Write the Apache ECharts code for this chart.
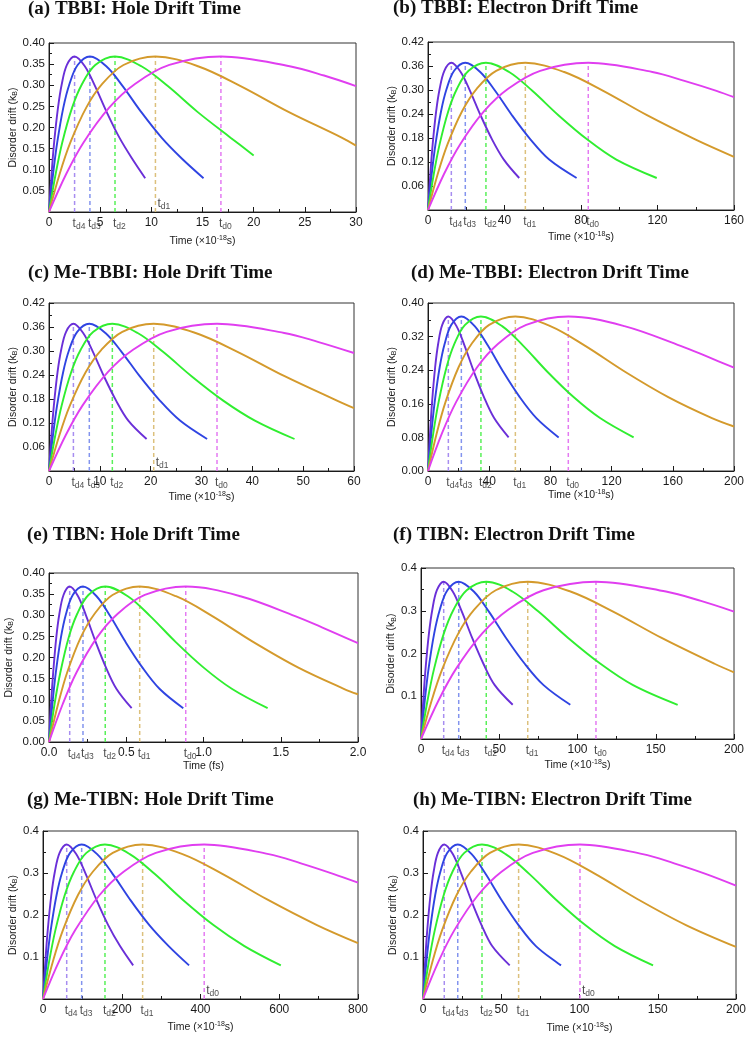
<!DOCTYPE html>
<html><head><meta charset="utf-8">
<script src="https://cdn.jsdelivr.net/npm/echarts@6/dist/echarts.min.js"></script>
<style>html,body{margin:0;padding:0;background:#fff}#c{width:752px;height:1041px}</style>
</head><body><div id="c"></div>
<script>
// ---------- DATA ----------
// curve order in each panel: td4 (violet), td3 (blue), td2 (green), td1 (gold), td0 (magenta)
const tdNames = ['d4','d3','d2','d1','d0'];
const peakValue = 0.368;

// (a) TBBI hole
const tdA = [2.5, 4.0, 6.45, 10.4, 16.8];
const a_td4 = [[0,0],[0.25,0.09],[0.5,0.164],[0.88,0.247],[1.25,0.303],[1.75,0.348],[2.5,0.368],[3.5,0.345],[4.5,0.298],[5.63,0.237],[6.88,0.176],[8.13,0.126],[9.4,0.08]];
const a_td3 = [[0,0],[0.4,0.09],[0.8,0.164],[1.4,0.247],[2,0.303],[2.8,0.348],[4,0.368],[5.6,0.345],[7.2,0.298],[9,0.237],[11,0.176],[13,0.126],[15.1,0.08]];
const a_td2 = [[0,0],[0.65,0.09],[1.29,0.164],[2.26,0.247],[3.23,0.303],[4.52,0.348],[6.45,0.368],[9.03,0.345],[11.61,0.298],[14.51,0.237],[17.74,0.176],[20,0.134]];
const a_td1 = [[0,0],[1.04,0.09],[2.08,0.164],[3.64,0.247],[5.2,0.303],[7.28,0.348],[10.4,0.368],[14.56,0.345],[18.72,0.298],[23.4,0.237],[28.6,0.176],[30,0.157]];
const a_td0 = [[0,0],[1.68,0.09],[3.36,0.164],[5.88,0.247],[8.4,0.303],[11.76,0.348],[16.8,0.368],[23.52,0.345],[26.88,0.323],[30,0.298]];

// (b) TBBI electron
const tdB = [12.2, 19.5, 30.3, 50.9, 83.8];
const b_td4 = [[0,0],[1.22,0.09],[2.44,0.164],[4.27,0.247],[6.1,0.303],[8.54,0.348],[12.2,0.368],[17.08,0.345],[21.96,0.298],[27.45,0.237],[33.55,0.176],[39.65,0.126],[47.7,0.08]];
const b_td3 = [[0,0],[1.95,0.09],[3.9,0.164],[6.83,0.247],[9.75,0.303],[13.65,0.348],[19.5,0.368],[27.3,0.345],[35.1,0.298],[43.88,0.237],[53.63,0.176],[63.38,0.126],[77.7,0.08]];
const b_td2 = [[0,0],[3.03,0.09],[6.06,0.164],[10.6,0.247],[15.15,0.303],[21.21,0.348],[30.3,0.368],[42.42,0.345],[54.54,0.298],[68.18,0.237],[83.33,0.176],[98.48,0.126],[119.6,0.08]];
const b_td1 = [[0,0],[5.09,0.09],[10.18,0.164],[17.82,0.247],[25.45,0.303],[35.63,0.348],[50.9,0.368],[71.26,0.345],[91.62,0.298],[114.5,0.237],[139.98,0.176],[160,0.133]];
const b_td0 = [[0,0],[8.38,0.09],[16.76,0.164],[29.33,0.247],[41.9,0.303],[58.66,0.348],[83.8,0.368],[117.32,0.345],[134.08,0.323],[150.84,0.298],[160,0.282]];

// (c) Me-TBBI hole
const tdC = [4.8, 7.93, 12.46, 20.6, 33.05];
const c_td4 = [[0,0],[0.48,0.09],[0.96,0.164],[1.68,0.247],[2.4,0.303],[3.36,0.348],[4.8,0.368],[6.72,0.345],[8.64,0.298],[10.8,0.237],[13.2,0.176],[15.6,0.126],[19.2,0.08]];
const c_td3 = [[0,0],[0.79,0.09],[1.59,0.164],[2.78,0.247],[3.97,0.303],[5.55,0.348],[7.93,0.368],[11.1,0.345],[14.27,0.298],[17.84,0.237],[21.81,0.176],[25.77,0.126],[31.1,0.08]];
const c_td2 = [[0,0],[1.25,0.09],[2.49,0.164],[4.36,0.247],[6.23,0.303],[8.72,0.348],[12.46,0.368],[17.44,0.345],[22.43,0.298],[28.04,0.237],[34.27,0.176],[40.5,0.126],[48.3,0.08]];
const c_td1 = [[0,0],[2.06,0.09],[4.12,0.164],[7.21,0.247],[10.3,0.303],[14.42,0.348],[20.6,0.368],[28.84,0.345],[37.08,0.298],[46.35,0.237],[56.65,0.176],[60,0.157]];
const c_td0 = [[0,0],[3.31,0.09],[6.61,0.164],[11.57,0.247],[16.53,0.303],[23.14,0.348],[33.05,0.368],[46.27,0.345],[52.88,0.323],[60,0.295]];

// (d) Me-TBBI electron
const tdD = [13.3, 21.8, 34.6, 57.1, 91.7];
const d_td4 = [[0,0],[1.33,0.09],[2.66,0.164],[4.66,0.247],[6.65,0.303],[9.31,0.348],[13.3,0.368],[18.62,0.345],[23.94,0.298],[29.93,0.237],[36.58,0.176],[43.23,0.126],[52.7,0.08]];
const d_td3 = [[0,0],[2.18,0.09],[4.36,0.164],[7.63,0.247],[10.9,0.303],[15.26,0.348],[21.8,0.368],[30.52,0.345],[39.24,0.298],[49.05,0.237],[59.95,0.176],[70.85,0.126],[85.4,0.08]];
const d_td2 = [[0,0],[3.46,0.09],[6.92,0.164],[12.11,0.247],[17.3,0.303],[24.22,0.348],[34.6,0.368],[48.44,0.345],[62.28,0.298],[77.85,0.237],[95.15,0.176],[112.45,0.126],[134.4,0.08]];
const d_td1 = [[0,0],[5.71,0.09],[11.42,0.164],[19.99,0.247],[28.55,0.303],[39.97,0.348],[57.1,0.368],[79.94,0.345],[102.78,0.298],[128.48,0.237],[157.03,0.176],[185.58,0.126],[200,0.106]];
const d_td0 = [[0,0],[9.17,0.09],[18.34,0.164],[32.1,0.247],[45.85,0.303],[64.19,0.348],[91.7,0.368],[128.38,0.345],[165.06,0.298],[183.4,0.271],[200,0.246]];

// (e) TIBN hole (fs)
const tdE = [0.134, 0.22, 0.364, 0.587, 0.885];
const e_td4 = [[0,0],[0.013,0.09],[0.027,0.164],[0.047,0.247],[0.067,0.303],[0.094,0.348],[0.134,0.368],[0.188,0.345],[0.241,0.298],[0.302,0.237],[0.369,0.176],[0.436,0.126],[0.535,0.08]];
const e_td3 = [[0,0],[0.022,0.09],[0.044,0.164],[0.077,0.247],[0.11,0.303],[0.154,0.348],[0.22,0.368],[0.308,0.345],[0.396,0.298],[0.495,0.237],[0.605,0.176],[0.715,0.126],[0.869,0.08]];
const e_td2 = [[0,0],[0.036,0.09],[0.073,0.164],[0.127,0.247],[0.182,0.303],[0.255,0.348],[0.364,0.368],[0.51,0.345],[0.655,0.298],[0.819,0.237],[1.001,0.176],[1.183,0.126],[1.415,0.08]];
const e_td1 = [[0,0],[0.059,0.09],[0.117,0.164],[0.205,0.247],[0.294,0.303],[0.411,0.348],[0.587,0.368],[0.822,0.345],[1.057,0.298],[1.321,0.237],[1.614,0.176],[1.908,0.126],[2.0,0.113]];
const e_td0 = [[0,0],[0.089,0.09],[0.177,0.164],[0.31,0.247],[0.443,0.303],[0.62,0.348],[0.885,0.368],[1.239,0.345],[1.593,0.298],[1.77,0.271],[2.0,0.234]];

// (f) TIBN electron
const tdF = [14.5, 24.1, 41.7, 68.2, 111.8];
const f_td4 = [[0,0],[1.45,0.09],[2.9,0.164],[5.08,0.247],[7.25,0.303],[10.15,0.348],[14.5,0.368],[20.3,0.345],[26.1,0.298],[32.63,0.237],[39.88,0.176],[47.13,0.126],[58.6,0.08]];
const f_td3 = [[0,0],[2.41,0.09],[4.82,0.164],[8.44,0.247],[12.05,0.303],[16.87,0.348],[24.1,0.368],[33.74,0.345],[43.38,0.298],[54.23,0.237],[66.28,0.176],[78.33,0.126],[95.4,0.08]];
const f_td2 = [[0,0],[4.17,0.09],[8.34,0.164],[14.6,0.247],[20.85,0.303],[29.19,0.348],[41.7,0.368],[58.38,0.345],[75.06,0.298],[93.83,0.237],[114.68,0.176],[135.53,0.126],[164,0.08]];
const f_td1 = [[0,0],[6.82,0.09],[13.64,0.164],[23.87,0.247],[34.1,0.303],[47.74,0.348],[68.2,0.368],[95.48,0.345],[122.76,0.298],[153.45,0.237],[187.55,0.176],[200,0.156]];
const f_td0 = [[0,0],[11.18,0.09],[22.36,0.164],[39.13,0.247],[55.9,0.303],[78.26,0.348],[111.8,0.368],[156.52,0.345],[178.88,0.323],[200,0.298]];

// (g) Me-TIBN hole
const tdG = [60.2, 98.2, 157.4, 253, 409.4];
const g_td4 = [[0,0],[6.02,0.09],[12.04,0.164],[21.07,0.247],[30.1,0.303],[42.14,0.348],[60.2,0.368],[84.28,0.345],[108.36,0.298],[135.45,0.237],[165.55,0.176],[195.65,0.126],[229,0.08]];
const g_td3 = [[0,0],[9.82,0.09],[19.64,0.164],[34.37,0.247],[49.1,0.303],[68.74,0.348],[98.2,0.368],[137.48,0.345],[176.76,0.298],[220.95,0.237],[270.05,0.176],[319.15,0.126],[371,0.08]];
const g_td2 = [[0,0],[15.74,0.09],[31.48,0.164],[55.09,0.247],[78.7,0.303],[110.18,0.348],[157.4,0.368],[220.36,0.345],[283.32,0.298],[354.15,0.237],[432.85,0.176],[511.55,0.126],[604,0.08]];
const g_td1 = [[0,0],[25.3,0.09],[50.6,0.164],[88.55,0.247],[126.5,0.303],[177.1,0.348],[253,0.368],[354.2,0.345],[455.4,0.298],[569.25,0.237],[695.75,0.176],[800,0.133]];
const g_td0 = [[0,0],[40.94,0.09],[81.88,0.164],[143.29,0.247],[204.7,0.303],[286.58,0.348],[409.4,0.368],[573.16,0.345],[655.04,0.323],[736.92,0.298],[800,0.277]];

// (h) Me-TIBN electron
const tdH = [13.6, 22.2, 37.7, 61.1, 100.3];
const h_td4 = [[0,0],[1.36,0.09],[2.72,0.164],[4.76,0.247],[6.8,0.303],[9.52,0.348],[13.6,0.368],[19.04,0.345],[24.48,0.298],[30.6,0.237],[37.4,0.176],[44.2,0.126],[55.4,0.08]];
const h_td3 = [[0,0],[2.22,0.09],[4.44,0.164],[7.77,0.247],[11.1,0.303],[15.54,0.348],[22.2,0.368],[31.08,0.345],[39.96,0.298],[49.95,0.237],[61.05,0.176],[72.15,0.126],[88.2,0.08]];
const h_td2 = [[0,0],[3.77,0.09],[7.54,0.164],[13.2,0.247],[18.85,0.303],[26.39,0.348],[37.7,0.368],[52.78,0.345],[67.86,0.298],[84.83,0.237],[103.68,0.176],[122.53,0.126],[147,0.08]];
const h_td1 = [[0,0],[6.11,0.09],[12.22,0.164],[21.39,0.247],[30.55,0.303],[42.77,0.348],[61.1,0.368],[85.54,0.345],[109.98,0.298],[137.48,0.237],[168.03,0.176],[200,0.124]];
const h_td0 = [[0,0],[10.03,0.09],[20.06,0.164],[35.11,0.247],[50.15,0.303],[70.21,0.348],[100.3,0.368],[140.42,0.345],[160.48,0.323],[180.54,0.298],[200,0.270]];

// ---------- STYLE / LAYOUT ----------
const colors = ['#6a2fd8','#2f44e2','#30ee30','#d49a2c','#e03ef0'];
const dashColors = ['#a78df0','#8394ee','#58f058','#dcc07c','#e47af2'];
const xNameSec = '{a|Time (×10}{sup|-18}{a|s)}';
const xNameFs = '{a|Time (fs)}';
const yName = '{y|Disorder drift (k}{ysub|B}{y|)}';

const panels = [
  {title:'(a) TBBI: Hole Drift Time', tl:[28,0], g:[49,43,307,169], x:[0,30,5], xd:0, y:[0,0.40,0.05], yd:2, y0:false, xn:xNameSec, xg:23, yg:28, curves:[a_td4,a_td3,a_td2,a_td1,a_td0], td:tdA, above:[3]},
  {title:'(b) TBBI: Electron Drift Time', tl:[393,-1], g:[428,42,306,168], x:[0,160,40], xd:0, y:[0,0.42,0.06], yd:2, y0:false, xn:xNameSec, xg:21, yg:28, curves:[b_td4,b_td3,b_td2,b_td1,b_td0], td:tdB, above:[]},
  {title:'(c) Me-TBBI: Hole Drift Time', tl:[28,264], g:[49,303,305,168], x:[0,60,10], xd:0, y:[0,0.42,0.06], yd:2, y0:false, xn:xNameSec, xg:20, yg:26, curves:[c_td4,c_td3,c_td2,c_td1,c_td0], td:tdC, above:[3]},
  {title:'(d) Me-TBBI: Electron Drift Time', tl:[411,264], g:[428,303,306,168], x:[0,200,40], xd:0, y:[0,0.40,0.08], yd:2, y0:true, xn:xNameSec, xg:18, yg:28, curves:[d_td4,d_td3,d_td2,d_td1,d_td0], td:tdD, above:[]},
  {title:'(e) TIBN: Hole Drift Time', tl:[27,526], g:[49,573,309,169], x:[0,2,0.5], xd:1, y:[0,0.40,0.05], yd:2, y0:true, xn:xNameFs, xg:18, yg:34, curves:[e_td4,e_td3,e_td2,e_td1,e_td0], td:tdE, above:[]},
  {title:'(f) TIBN: Electron Drift Time', tl:[393,526], g:[421,568,313,171], x:[0,200,50], xd:0, y:[0,0.4,0.1], yd:1, y0:false, xn:xNameSec, xg:20, yg:21, curves:[f_td4,f_td3,f_td2,f_td1,f_td0], td:tdF, above:[]},
  {title:'(g) Me-TIBN: Hole Drift Time', tl:[27,791], g:[43,831,315,168], x:[0,800,200], xd:0, y:[0,0.4,0.1], yd:1, y0:false, xn:xNameSec, xg:22, yg:24, curves:[g_td4,g_td3,g_td2,g_td1,g_td0], td:tdG, above:[4]},
  {title:'(h) Me-TIBN: Electron Drift Time', tl:[413,791], g:[423,831,313,168], x:[0,200,50], xd:0, y:[0,0.4,0.1], yd:1, y0:false, xn:xNameSec, xg:23, yg:24, curves:[h_td4,h_td3,h_td2,h_td1,h_td0], td:tdH, above:[4]}
];

const sans = 'Liberation Sans, Arial, sans-serif';
const ink = '#1a1a1a';
const nameRich = {
  a:{fontFamily:sans, fontSize:10.5, lineHeight:12, color:ink},
  sup:{fontFamily:sans, fontSize:7, lineHeight:6, verticalAlign:'top', color:ink},
  y:{fontFamily:sans, fontSize:10.5, lineHeight:12, color:ink},
  ysub:{fontFamily:sans, fontSize:7, lineHeight:6, verticalAlign:'bottom', color:ink}
};
const tdRich = {
  t:{fontFamily:sans, fontSize:12, lineHeight:15, color:ink},
  s:{fontFamily:sans, fontSize:8.5, lineHeight:8, verticalAlign:'bottom', color:ink}
};

const option = {animation:false, backgroundColor:'#fff', title:[], grid:[], xAxis:[], yAxis:[], series:[]};

panels.forEach((p, i) => {
  option.title.push({text:p.title, left:p.tl[0], top:p.tl[1], padding:0,
    textStyle:{fontFamily:'Liberation Serif, Times New Roman, serif', fontWeight:'bold', fontSize:19, color:'#111'}});
  option.grid.push({left:p.g[0], top:p.g[1], width:p.g[2], height:p.g[3], show:true,
    borderColor:'#333', borderWidth:1, backgroundColor:'transparent'});
  option.xAxis.push({type:'value', gridIndex:i, min:p.x[0], max:p.x[1], interval:p.x[2],
    axisLine:{lineStyle:{color:ink, width:1}},
    axisTick:{inside:true, length:5, lineStyle:{color:ink}},
    minorTick:{show:true, splitNumber:2, length:3, lineStyle:{color:ink}},
    splitLine:{show:false},
    axisLabel:{fontFamily:sans, fontSize:12, color:ink, margin:5, formatter:v => v.toFixed(p.xd)},
    name:p.xn, nameLocation:'middle', nameGap:p.xg, nameTextStyle:{rich:nameRich}});
  option.yAxis.push({type:'value', gridIndex:i, min:p.y[0], max:p.y[1], interval:p.y[2],
    axisLine:{show:true, lineStyle:{color:ink, width:1}},
    axisTick:{show:true, inside:true, length:5, lineStyle:{color:ink}},
    minorTick:{show:true, splitNumber:2, length:3, lineStyle:{color:ink}},
    splitLine:{show:false},
    axisLabel:{fontFamily:sans, fontSize:11.5, color:ink, margin:4, showMinLabel:p.y0, formatter:v => v.toFixed(p.yd)},
    name:yName, nameLocation:'middle', nameGap:p.yg, nameTextStyle:{rich:nameRich}});

  // dashed drop lines at each drift time
  p.td.forEach((t, k) => {
    option.series.push({type:'line', xAxisIndex:i, yAxisIndex:i, symbol:'none', silent:true, z:1,
      data:[[t,0],[t,peakValue]], lineStyle:{type:[4,3], width:1.5, color:dashColors[k]}});
  });
  // curves
  p.curves.forEach((c, k) => {
    option.series.push({type:'line', xAxisIndex:i, yAxisIndex:i, symbol:'none', silent:true, z:2,
      smooth:0.35, data:c, lineStyle:{width:1.9, color:colors[k]}});
  });
  // t_d labels
  option.series.push({type:'scatter', xAxisIndex:i, yAxisIndex:i, symbolSize:0, silent:true, clip:false, z:5,
    data:p.td.map((t, k) => {
      const up = p.above.includes(k);
      return {value:[t,0], label:{show:true, position:up ? 'top' : 'bottom', distance:up ? 1 : 4,
        align:'left', offset:up ? [2,0] : [-2,0], formatter:'{t|t}{s|' + tdNames[k] + '}', rich:tdRich}};
    })});
});

const chart = echarts.init(document.getElementById('c'), null, {renderer:'canvas'});
chart.setOption(option);
</script></body></html>
